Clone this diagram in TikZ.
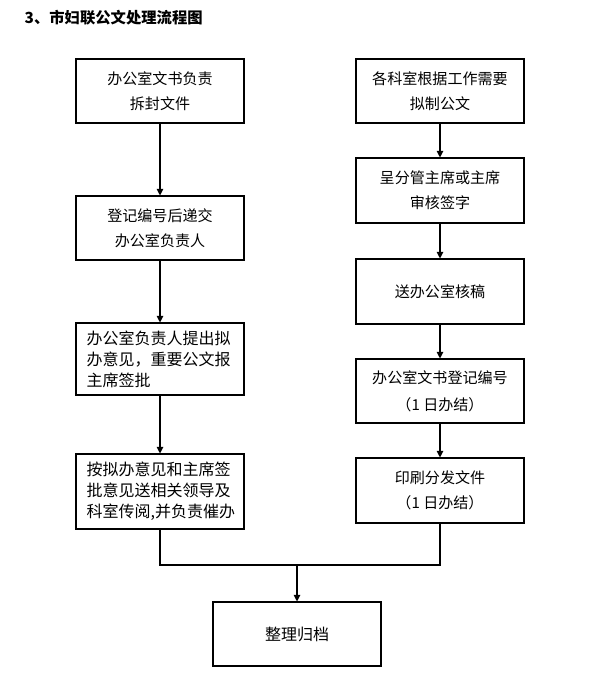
\documentclass[tikz,border=0pt]{standalone}
\usepackage{fontspec}
\setmainfont{Noto Sans CJK SC}
\usetikzlibrary{arrows.meta}
\begin{document}
\begin{tikzpicture}[x=0.75pt,y=-0.75pt,
  box/.style={draw,line width=0.8pt,minimum width=126pt,inner sep=0pt,align=center,
    font=\fontsize{11.3}{18.8}\selectfont},
  wide/.style={font=\fontsize{12}{15.8}\selectfont,align=left,text width=110pt},
  arr/.style={line width=0.8pt,-{Triangle[width=5pt,length=5pt]}},
  ln/.style={line width=0.8pt}]
\useasboundingbox (0,0) rectangle (593,678);
\node[anchor=west,font=\fontsize{11.5}{14}\selectfont\bfseries] (title) at (20,18) {3、市妇联公文处理流程图};
% left column
\node[box,minimum height=48pt] (L1) at (160,91) {办公室文书负责\\拆封文件};
\node[box,minimum height=48pt] (L2) at (160,228) {登记编号后递交\\办公室负责人};
\node[box,wide,minimum height=54pt] (L3) at (160,359) {办公室负责人提出拟\\办意见，重要公文报\\主席签批};
\node[box,wide,minimum height=56.25pt] (L4) at (160,491.5) {按拟办意见和主席签\\批意见送相关领导及\\科室传阅,并负责催办};
% right column
\node[box,minimum height=48pt] (R1) at (440,91) {各科室根据工作需要\\拟制公文};
\node[box,minimum height=48.75pt] (R2) at (440,190.5) {呈分管主席或主席\\审核签字};
\node[box,minimum height=48.75pt] (R3) at (440,291.5) {送办公室核稿};
\node[box,minimum height=48pt,font=\fontsize{11.3}{20}\selectfont] (R4) at (440,391) {办公室文书登记编号\\（1 日办结）};
\node[box,minimum height=48.75pt] (R5) at (440,490.5) {印刷分发文件\\（1 日办结）};
% final
\node[box,minimum height=48pt,font=\fontsize{12}{14}\selectfont] (F) at (297,634) {整理归档};
\coordinate (J) at (297,565);
\draw[arr] (L1) -- (L2);
\draw[arr] (L2) -- (L3);
\draw[arr] (L3) -- (L4);
\draw[arr] (R1) -- (R2);
\draw[arr] (R2) -- (R3);
\draw[arr] (R3) -- (R4);
\draw[arr] (R4) -- (R5);
\draw[ln] (L4.south) |- (J) -| (R5.south);
\draw[arr] (J) -- (F.north);
\end{tikzpicture}
\end{document}
